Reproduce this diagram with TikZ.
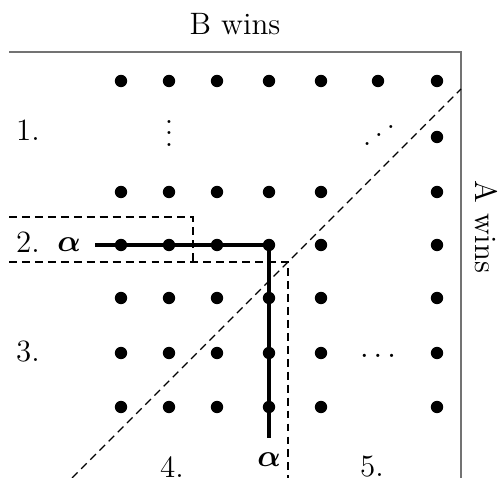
\documentclass[tikz,border=0pt]{standalone}
\usepackage{amsmath, amsfonts}
\usepackage{tikz}
\usetikzlibrary{positioning}

\begin{document}
\begin{tikzpicture}[
    x=0.355pt, y=-0.355pt,
    every node/.style={font=\fontsize{11}{13}\selectfont},
    dot/.style={circle, fill=black, inner sep=0pt, minimum size=4.4pt},
    greek/.style={inner sep=5pt},
    frame/.style={draw=black!55, line width=0.6pt},
    region/.style={dash pattern=on 2.8pt off 1.8pt, line width=0.45pt},
    play/.style={line width=1.4pt}
]
    \useasboundingbox (0,0) rectangle (499,478);

    % Frame
    \draw[frame] (9,52) -- (461,52) -- (461,478);
    \node (bwins) at (235,24) {B wins};
    \node[rotate=-90] (awins) at (486,227) {A wins};

    % Dots
    \foreach \c/\x in {1/121, 2/169, 3/217, 4/269, 5/321, 6/378, 7/437} {
        \node[dot] (d1\c) at (\x,81) {};
    }
    \node[dot] (d27) at (437,137) {};
    \foreach \r/\y in {3/192, 4/245, 5/298, 6/353, 7/407} {
        \foreach \c/\x in {1/121, 2/169, 3/217, 4/269, 5/321, 7/437}
            \node[dot] (d\r\c) at (\x,\y) {};
    }
    \node (vdots) at (169,125) {$\vdots$};
    \node (iddots) at (379,127) {\reflectbox{$\ddots$}};
    \node (ldots) at (378,356) {$\ldots$};

    % Regions
    \draw[region] (9,217) -- (193,217) -- (193,262);
    \draw[region] (9,262) -- (288,262) -- (288,478);
    \draw[region] (72,478) -- (461,89);

    % Labels
    \node (one) at (28,130) {1.};
    \node (two) at (28,242) {2.};
    \node (three) at (28,352) {3.};
    \node (four) at (172,467) {4.};
    \node (five) at (372,467) {5.};
    \node[greek] (alphaA) at (69,245) {$\boldsymbol{\alpha}$};
    \node[greek] (alphaB) at (269,460) {$\boldsymbol{\alpha}$};

    % Play
    \draw[play] (alphaA) -- (d44.center) -- (d74.center) -- (alphaB);

\end{tikzpicture}
\end{document}
